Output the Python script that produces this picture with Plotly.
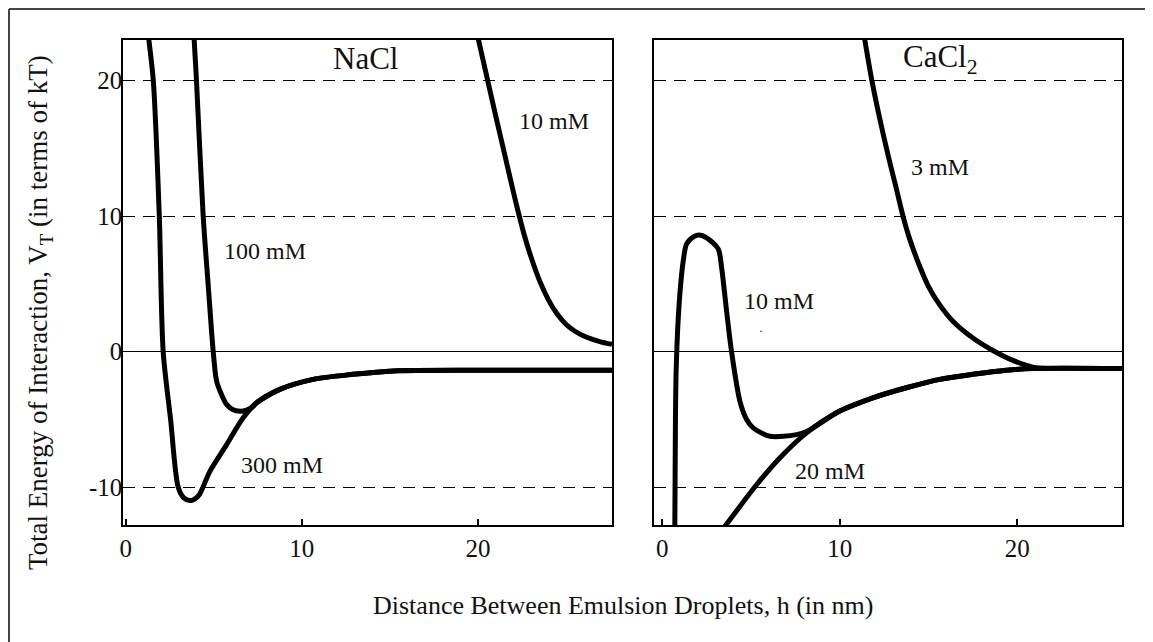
import plotly.graph_objects as go

# ---------------- data ----------------
nacl_300_x = [1.10, 1.32, 1.57, 1.91, 2.13, 2.55, 2.98, 3.30, 3.65, 4.00, 4.21, 4.78, 5.73, 6.67, 7.43, 8.75, 10.64, 12.9, 15.2, 20.0, 27.6]
nacl_300_y = [25.5, 23.0, 20.0, 10.0, 0.0, -5.0, -10.0, -10.8, -11.0, -10.8, -10.5, -8.84, -6.87, -4.89, -3.78, -2.79, -2.05, -1.68, -1.43, -1.38, -1.38]

nacl_100_x = [3.80, 3.89, 4.02, 4.40, 4.68, 4.97, 5.16, 5.45, 5.73, 6.10, 6.48, 6.90, 7.23, 7.43, 8.75, 10.64, 12.9, 15.2, 20.0, 27.6]
nacl_100_y = [25.0, 23.0, 20.0, 10.0, 5.0, 0.0, -2.17, -3.2, -3.9, -4.3, -4.4, -4.3, -4.05, -3.78, -2.79, -2.05, -1.68, -1.43, -1.38, -1.38]

nacl_10_x = [19.68, 19.99, 20.46, 21.0, 21.5, 22.0, 22.26, 22.6, 23.0, 23.5, 24.0, 24.5, 25.0, 25.5, 26.0, 26.5, 27.0, 27.6]
nacl_10_y = [25.0, 23.2, 20.5, 17.4, 14.6, 11.8, 10.4, 8.7, 7.0, 5.2, 3.8, 2.75, 2.0, 1.5, 1.15, 0.9, 0.7, 0.54]

cacl_10_x = [0.70, 0.74, 0.78, 0.90, 1.05, 1.18, 1.37, 1.80, 2.08, 2.50, 3.15, 3.34, 3.62, 3.90, 4.37, 4.75, 5.12, 6.06, 7.56, 8.13, 10.0, 11.87, 13.75, 15.63, 17.5, 19.38, 20.88, 25.9]
cacl_10_y = [-14.0, -5.0, -1.4, 2.5, 5.2, 6.7, 7.95, 8.5, 8.6, 8.4, 7.58, 6.22, 3.01, 0.0, -3.65, -5.01, -5.63, -6.25, -6.13, -5.9, -4.39, -3.41, -2.67, -2.05, -1.68, -1.38, -1.25, -1.25]

cacl_20_x = [3.18, 3.66, 5.31, 6.62, 8.13, 10.0, 11.87, 13.75, 15.63, 17.5, 19.38, 20.88, 25.9]
cacl_20_y = [-13.5, -12.67, -9.83, -7.85, -6.0, -4.39, -3.41, -2.67, -2.05, -1.68, -1.38, -1.25, -1.25]

cacl_3_x = [11.16, 11.41, 11.78, 12.25, 12.72, 13.19, 13.56, 13.94, 14.5, 15.0, 15.6, 16.4, 17.5, 18.6, 19.75, 20.88, 21.8]
cacl_3_y = [25.0, 23.0, 20.2, 17.2, 14.5, 12.0, 10.0, 8.3, 6.3, 4.8, 3.5, 2.2, 1.0, 0.1, -0.65, -1.15, -1.25]

y_ticks = [-10, 0, 10, 20]
y_tick_text = ["-10", "0", "10", "20"]
x_ticks = [0, 10, 20]

# label texts and their data positions
left_labels = [("NaCl", 13.6, 21.6, 31), ("10 mM", 24.3, 17.0, 24), ("100 mM", 7.9, 7.4, 24), ("300 mM", 8.9, -8.4, 24)]
right_labels = [("CaCl<sub>2</sub>", 15.65, 21.6, 31), ("3 mM", 15.65, 13.6, 24), ("10 mM", 6.55, 3.7, 24), ("20 mM", 9.45, -8.8, 24)]

FONT = "Liberation Serif"
INK = "#111111"

W, H = 1145, 634
ML, MR, MT, MB = 115, 31, 32, 117
PW, PH = W - ML - MR, H - MT - MB

fig = go.Figure()

line_style = dict(color="black", width=5, shape="spline", smoothing=0.8)

for xs, ys in [(nacl_300_x, nacl_300_y), (nacl_100_x, nacl_100_y), (nacl_10_x, nacl_10_y)]:
    fig.add_trace(go.Scatter(x=xs, y=ys, mode="lines", line=line_style, xaxis="x", yaxis="y", showlegend=False, hoverinfo="skip"))
for xs, ys in [(cacl_10_x, cacl_10_y), (cacl_20_x, cacl_20_y), (cacl_3_x, cacl_3_y)]:
    fig.add_trace(go.Scatter(x=xs, y=ys, mode="lines", line=line_style, xaxis="x2", yaxis="y2", showlegend=False, hoverinfo="skip"))

axis_common = dict(
    showline=True, linecolor="black", linewidth=1.5, mirror=True,
    showgrid=False, zeroline=False,
    tickfont=dict(family=FONT, size=25, color=INK),
)
yaxis_common = dict(
    showline=True, linecolor="black", linewidth=1.5, mirror=True,
    range=[-12.8, 23.0], tickvals=y_ticks, ticktext=y_tick_text,
    showgrid=True, gridcolor="black", gridwidth=1.3, griddash="12px,8px",
    zeroline=True, zerolinecolor="black", zerolinewidth=1.2,
    ticks="", tickfont=dict(family=FONT, size=25, color=INK),
)

# the page body has an 8px margin, so the figure is drawn smaller and offset
fig.update_layout(
    width=W, height=H,
    margin=dict(l=ML, r=MR, t=MT, b=MB),
    paper_bgcolor="white", plot_bgcolor="white",
    xaxis=dict(domain=[0, 0.4895], range=[-0.15, 27.6], tickvals=x_ticks, ticks="inside", ticklen=6, tickcolor="black", tickwidth=1.5, **axis_common),
    xaxis2=dict(domain=[0.5315, 1.0], range=[-0.47, 25.9], tickvals=x_ticks, ticks="inside", ticklen=6, tickcolor="black", tickwidth=1.5, anchor="y2", **axis_common),
    yaxis=dict(anchor="x", ticklabelstandoff=-6, **yaxis_common),
    yaxis2=dict(anchor="x2", showticklabels=False, **yaxis_common),
    showlegend=False,
)

annotations = []
for txt, x, y, s in left_labels:
    annotations.append(dict(text=txt, x=x, y=y, xref="x", yref="y", showarrow=False, font=dict(family=FONT, size=s, color=INK)))
for txt, x, y, s in right_labels:
    annotations.append(dict(text=txt, x=x, y=y, xref="x2", yref="y2", showarrow=False, font=dict(family=FONT, size=s, color=INK)))
# small stray dot in the CaCl2 panel
annotations.append(dict(text="·", x=5.55, y=1.5, xref="x2", yref="y2", showarrow=False, font=dict(family=FONT, size=12, color=INK)))
annotations.append(dict(text="Total Energy of Interaction, V<sub>T</sub> (in terms of kT)", x=-0.0831, y=0.439, xref="paper", yref="paper",
                        xanchor="center", yanchor="middle",
                        showarrow=False, textangle=-90, font=dict(family=FONT, size=27, color=INK)))
annotations.append(dict(text="Distance Between Emulsion Droplets, h (in nm)", x=0.5005, y=-0.167, xref="paper", yref="paper",
                        xanchor="center", yanchor="middle",
                        showarrow=False, font=dict(family=FONT, size=26, color=INK)))
fig.update_layout(annotations=annotations)

# outer frame: only the left and top edges fall inside the picture; keep shapes inside the figure
frame = dict(color="#444444", width=2)
fx0 = (1 - ML) / PW
fy_top = (PH + MT - 1) / PH
fy_bot = -MB / PH
fx_right = (W - ML) / PW
fig.add_shape(type="line", xref="paper", yref="paper", x0=fx0, y0=fy_bot, x1=fx0, y1=fy_top, line=frame, layer="above")
fig.add_shape(type="line", xref="paper", yref="paper", x0=fx0, y0=fy_top, x1=fx_right, y1=fy_top, line=frame, layer="above")

fig.write_html("out.html")
